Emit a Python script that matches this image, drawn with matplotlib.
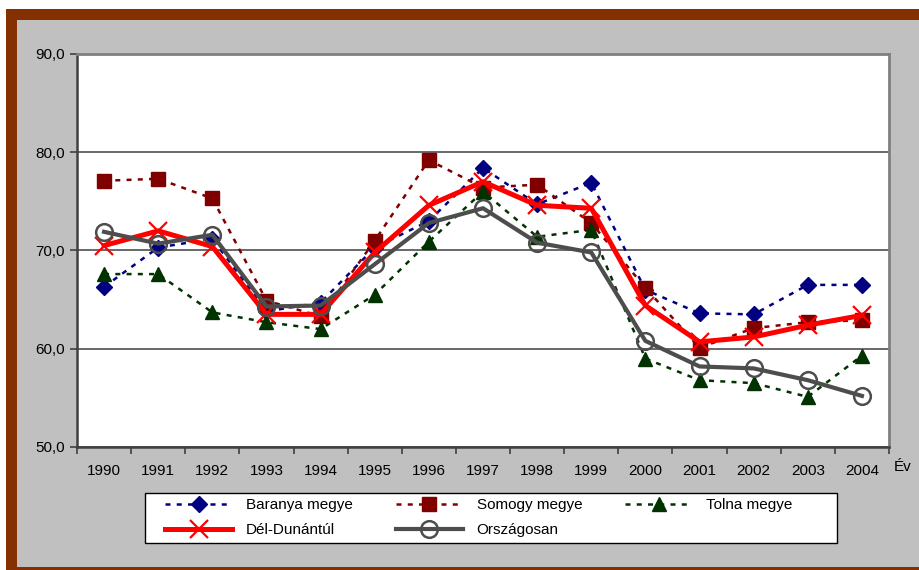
import matplotlib
matplotlib.use("Agg")
import matplotlib.pyplot as plt
from matplotlib.patches import Rectangle
from matplotlib.ticker import FuncFormatter

plt.rcParams["font.family"] = ["Liberation Sans", "DejaVu Sans"]

years = ["1990", "1991", "1992", "1993", "1994", "1995", "1996", "1997",
         "1998", "1999", "2000", "2001", "2002", "2003", "2004"]

baranya = [66.3, 70.3, 71.2, 63.8, 64.7, 70.3, 73.0, 78.4, 74.7, 76.9, 66.0, 63.6, 63.5, 66.5, 66.5]
somogy = [77.1, 77.3, 75.3, 64.9, 63.3, 71.0, 79.2, 76.4, 76.7, 72.8, 66.2, 60.1, 62.1, 62.7, 62.9]
tolna = [67.6, 67.6, 63.7, 62.7, 62.0, 65.5, 70.9, 76.0, 71.4, 72.1, 59.0, 56.8, 56.5, 55.1, 59.3]
del_dunantul = [70.5, 72.0, 70.4, 63.5, 63.5, 69.8, 74.6, 77.0, 74.6, 74.3, 64.4, 60.7, 61.2, 62.4, 63.4]
orszagosan = [71.9, 70.7, 71.6, 64.3, 64.4, 68.6, 72.8, 74.3, 70.8, 69.8, 60.8, 58.2, 58.0, 56.8, 55.2]

W, H = 919, 570
fs = 11
fig = plt.figure(figsize=(W / 100, H / 100), dpi=100)
fig.patch.set_facecolor("white")

# brown frame + gray background
fig.patches.append(Rectangle((6 / W, 0), 1.0, (H - 9) / H, transform=fig.transFigure,
                             facecolor="#843000", edgecolor="none", zorder=-2))
fig.patches.append(Rectangle((17 / W, 3 / H), 1.0, (H - 20 - 3) / H, transform=fig.transFigure,
                             facecolor="#C0C0C0", edgecolor="none", zorder=-1))
# legend box
fig.patches.append(Rectangle((145 / W, (H - 543) / H), 692 / W, 50 / H, transform=fig.transFigure,
                             facecolor="white", edgecolor="black", lw=1.0, zorder=3))

ax = fig.add_axes([77 / W, (H - 447) / H, 812 / W, 393 / H])
ax.set_facecolor("white")
x = list(range(len(years)))

dash = (0, (2, 2.5))
ax.plot(x, baranya, color="#000080", lw=1.8, ls=dash, marker="D", ms=8,
        mfc="#000080", mec="#000080", label="Baranya megye")
ax.plot(x, somogy, color="#800000", lw=1.8, ls=dash, marker="s", ms=10.5,
        mfc="#800000", mec="#800000", label="Somogy megye")
ax.plot(x, tolna, color="#003300", lw=1.8, ls=dash, marker="^", ms=10,
        mfc="#003300", mec="#003300", label="Tolna megye")
ax.plot(x, del_dunantul, color="#FF0000", lw=3.6, marker="x", ms=13, mew=1.6,
        label="Dél-Dunántúl")
ax.plot(x, orszagosan, color="#4D4D4D", lw=3.0, marker="o", ms=12, mew=1.8,
        mfc="none", mec="#4D4D4D", label="Országosan")

ax.set_xlim(-0.5, 14.5)
ax.set_ylim(50, 90)
ax.set_yticks([50, 60, 70, 80, 90])
ax.yaxis.set_major_formatter(FuncFormatter(lambda v, p: f"{v:.1f}".replace(".", ",")))
ax.grid(axis="y", color="#404040", lw=1.1)
ax.set_axisbelow(True)

ax.set_xticks([i - 0.5 for i in range(16)])
ax.set_xticklabels([])
ax.set_xticks(x, minor=True)
ax.set_xticklabels(years, minor=True)
ax.tick_params(axis="x", which="major", direction="out", length=5, width=1.2, color="#404040")
ax.tick_params(axis="x", which="minor", length=0, pad=12, labelsize=fs)
ax.tick_params(axis="y", direction="out", length=5, width=1.2, color="#404040", labelsize=fs, pad=4)

for s in ["left", "bottom"]:
    ax.spines[s].set_color("#404040")
    ax.spines[s].set_linewidth(1.8)
for s in ["top", "right"]:
    ax.spines[s].set_color("#808080")
    ax.spines[s].set_linewidth(2)

fig.text(903 / W, 1 - 467 / H, "Év", fontsize=fs, ha="center", va="center")

h, l = ax.get_legend_handles_labels()
order = [0, 3, 1, 4, 2]
leg = fig.legend([h[i] for i in order], [l[i] for i in order], ncol=3,
                 loc="upper left", bbox_to_anchor=(165 / W, 1 - 498 / H),
                 borderaxespad=0, borderpad=0, fontsize=fs, handlelength=4.4,
                 handletextpad=0.9, labelspacing=0.72, columnspacing=2.8,
                 frameon=False)
leg.set_zorder(4)

fig.savefig("out.png", dpi=100, facecolor=fig.get_facecolor())
